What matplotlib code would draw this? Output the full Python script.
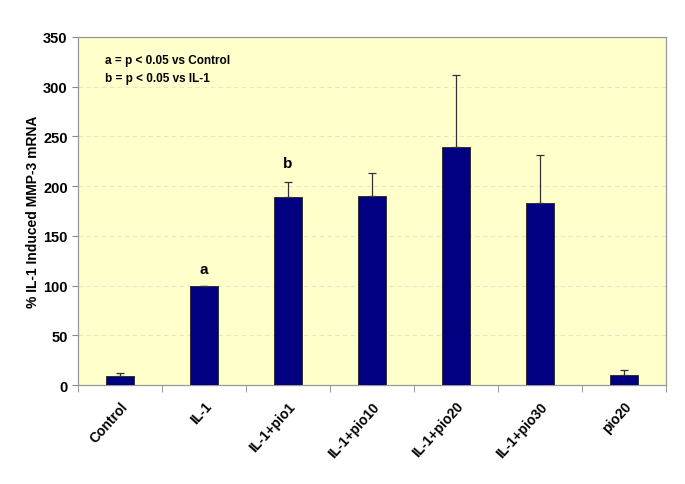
import numpy as np
import matplotlib.pyplot as plt

plt.rcParams['font.family'] = ['Liberation Sans', 'DejaVu Sans']
plt.rcParams['font.weight'] = 'bold'

groups = ['Control', 'IL-1', 'IL-1+pio1', 'IL-1+pio10', 'IL-1+pio20', 'IL-1+pio30', 'pio20']
vals = [9, 100, 189, 190, 239, 183, 10]
errs = [3, 0, 15, 23, 73, 48, 5]
marks = {1: 'a', 2: 'b'}

fig = plt.figure(figsize=(6.85, 4.85), dpi=100)
ax = fig.add_axes([0.114, 0.204, 0.858, 0.718])
ax.set_facecolor('#FFFFCC')

x = np.arange(len(groups))
ax.bar(x, vals, width=0.34, color='#000080', edgecolor='#222222', linewidth=0.6, zorder=3)
ax.errorbar(x, vals, yerr=[np.zeros(len(errs)), errs], fmt='none', ecolor='#333333',
            elinewidth=0.9, capsize=3, capthick=0.9, zorder=4)

for i, t in marks.items():
    ax.text(i, vals[i] + errs[i] + 12 if errs[i] else vals[i] + 10, t, ha='center', va='bottom',
            fontsize=11, fontweight='bold')

ax.set_xlim(-0.5, len(groups) - 0.5)
ax.set_ylim(0, 350)
ax.set_yticks(np.arange(0, 351, 50))
ax.grid(axis='y', color='#e6e6c8', linestyle=(0, (4, 3)), linewidth=0.8, zorder=0)

ax.set_xticks(x)
ax.set_xticklabels(groups, rotation=48, ha='right', rotation_mode='anchor', fontsize=10)
ax.tick_params(axis='x', length=0, pad=10)
ax.set_xticks(np.arange(-0.5, len(groups), 1), minor=True)
ax.tick_params(axis='x', which='minor', length=5, color='#888888')
ax.tick_params(axis='y', labelsize=10.5, length=4, color='#888888')
for s in ax.spines.values():
    s.set_color('#999999')
    s.set_linewidth(0.9)

ax.set_ylabel('% IL-1 Induced MMP-3 mRNA', fontsize=10, fontweight='bold', labelpad=2)

ax.text(0.045, 0.925, 'a = p < 0.05 vs Control', transform=ax.transAxes, fontsize=8.5, fontweight='bold')
ax.text(0.045, 0.872, 'b = p < 0.05 vs IL-1', transform=ax.transAxes, fontsize=8.5, fontweight='bold')

fig.savefig('out.png', dpi=100)
